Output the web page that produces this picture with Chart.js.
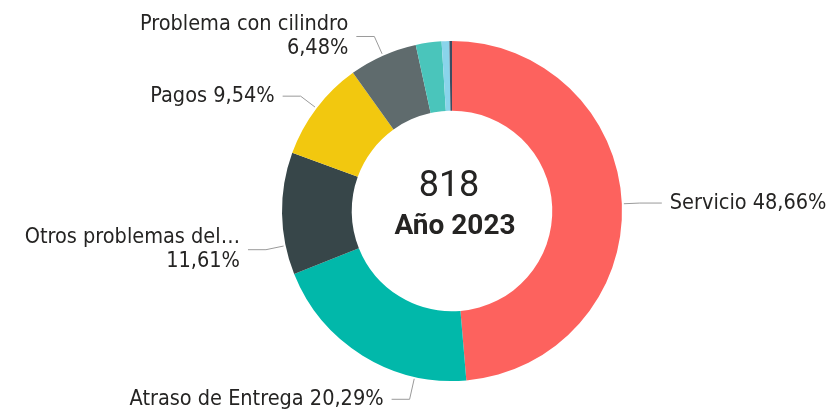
<!DOCTYPE html>
<html>
<head>
<meta charset="utf-8">
<script src="https://cdn.jsdelivr.net/npm/chart.js@4"></script>
<style>
  html, body { margin: 0; padding: 0; background: #fff; }
  #wrap { width: 832px; height: 411px; position: relative; }
</style>
</head>
<body>
<div id="wrap"><canvas id="chart"></canvas></div>
<script>
// categories and counts (818 in total)
const categories = ['Servicio', 'Atraso de Entrega', 'Otros problemas del…', 'Pagos', 'Problema con cilindro', 'Otro A', 'Otro B', 'Otro C'];
const counts = [398, 166, 95, 78, 53, 20, 6, 2];
const totalLabel = '818';
const yearLabel = 'Año 2023';

const sliceColors = ['#FD625E', '#01B8AA', '#374649', '#F2C80F', '#5F6B6D', '#4AC5BB', '#8AD4EB', '#3B4D62'];
// where on each slice the leader starts (fraction of the slice's sweep); null = no label
const leaderAt = [0.5, 0.24, 0.24, 0.5, 0.5, null, null, null];
const leaderLen = [16, 21, 18, 18, 19];
const twoLines = [false, false, true, false, true];

const labelFont = '21.5px "DejaVu Sans Condensed", "DejaVu Sans", sans-serif';

const total = counts.reduce((a, b) => a + b, 0);
const pct = v => (v / total * 100).toFixed(2).replace('.', ',') + '%';

const calloutPlugin = {
    id: 'callouts',
    afterDatasetsDraw(chart) {
        const ctx = chart.ctx;
        const arcs = chart.getDatasetMeta(0).data;
        ctx.save();
        ctx.font = labelFont;
        ctx.textBaseline = 'middle';
        arcs.forEach((arc, i) => {
            if (leaderAt[i] == null) return;
            const {x, y, startAngle, endAngle, outerRadius} = arc.getProps(['x', 'y', 'startAngle', 'endAngle', 'outerRadius'], true);
            const a = startAngle + (endAngle - startAngle) * leaderAt[i];
            const r2 = outerRadius + 2 + leaderLen[i];
            const p1 = {x: x + Math.cos(a) * (outerRadius + 2), y: y + Math.sin(a) * (outerRadius + 2)};
            const p2 = {x: x + Math.cos(a) * r2, y: y + Math.sin(a) * r2};
            const right = Math.cos(a) >= 0;
            const p3 = {x: p2.x + (right ? 22 : -18), y: p2.y};

            ctx.strokeStyle = '#9a9a9a';
            ctx.lineWidth = 1;
            ctx.beginPath();
            ctx.moveTo(p1.x, p1.y);
            ctx.lineTo(p2.x, p2.y);
            ctx.lineTo(p3.x, p3.y);
            ctx.stroke();

            ctx.fillStyle = '#252423';
            const tx = p3.x + (right ? 8 : -8);
            ctx.textAlign = right ? 'left' : 'right';
            if (twoLines[i]) {
                ctx.fillText(categories[i], tx, p3.y - 12);
                ctx.fillText(pct(counts[i]), tx, p3.y + 12);
            } else {
                ctx.fillText(categories[i] + ' ' + pct(counts[i]), tx, p3.y);
            }
        });
        ctx.restore();
    }
};

const centerPlugin = {
    id: 'centerText',
    afterDraw(chart) {
        const arc = chart.getDatasetMeta(0).data[0];
        const {x, y} = arc.getProps(['x', 'y'], true);
        const ctx = chart.ctx;
        ctx.save();
        ctx.fillStyle = '#252423';
        ctx.textAlign = 'center';
        ctx.textBaseline = 'middle';
        ctx.font = '36px Roboto, sans-serif';
        ctx.fillText(totalLabel, x - 3, y - 24);
        ctx.font = 'bold 28px Roboto, sans-serif';
        ctx.fillText(yearLabel, x + 3, y + 16);
        ctx.restore();
    }
};

new Chart(document.getElementById('chart'), {
    type: 'doughnut',
    data: {
        labels: categories,
        datasets: [{
            data: counts,
            backgroundColor: sliceColors,
            borderWidth: 0
        }]
    },
    options: {
        responsive: true,
        maintainAspectRatio: false,
        animation: false,
        cutout: '59%',
        layout: {
            padding: {left: 72, right: 0, top: 41, bottom: 30}
        },
        plugins: {
            legend: {display: false},
            tooltip: {enabled: false}
        }
    },
    plugins: [calloutPlugin, centerPlugin]
});
</script>
</body>
</html>
